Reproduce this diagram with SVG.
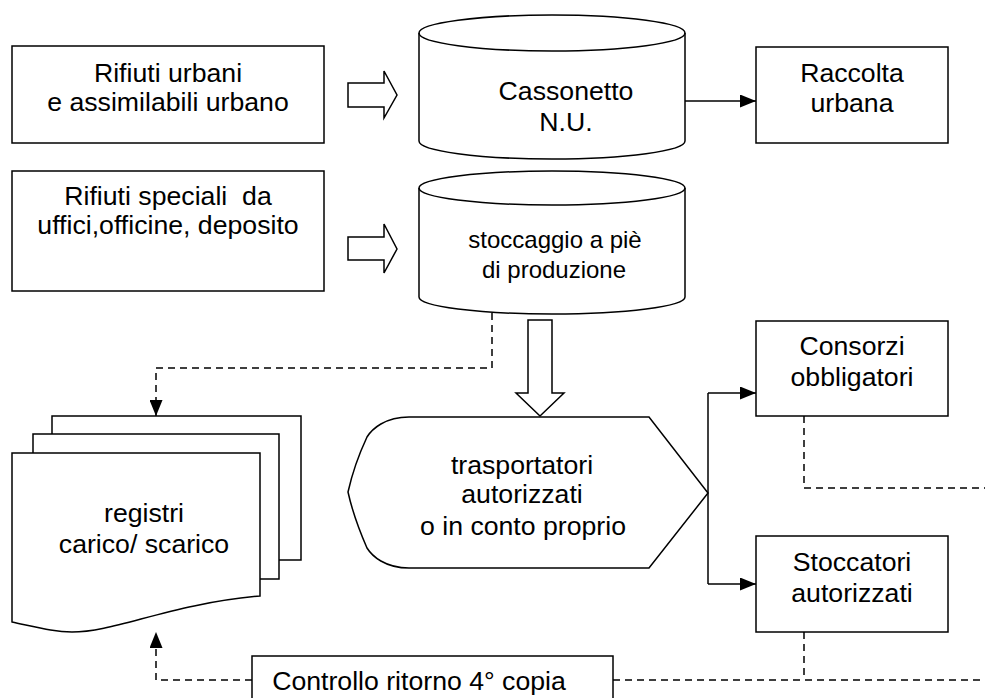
<svg xmlns="http://www.w3.org/2000/svg" width="985" height="698" viewBox="0 0 985 698">
<defs>
<style>
.s{fill:#fff;stroke:#000;stroke-width:1.5}
.l{fill:none;stroke:#000;stroke-width:1.5}
.d{fill:none;stroke:#000;stroke-width:1.5;stroke-dasharray:7,5}
text{font-family:"Liberation Sans",Arial,sans-serif;font-size:26.67px;fill:#000;text-anchor:middle;white-space:pre}
.sm{font-size:24px}
</style>
<marker id="ah" viewBox="0 0 16 13" refX="16" refY="6.5" markerWidth="16" markerHeight="13" markerUnits="userSpaceOnUse" orient="auto"><path d="M0,0L16,6.5L0,13z" fill="#000"/></marker>
</defs>
<rect width="985" height="698" fill="#fff"/>

<g id="connectors">
<line class="l" x1="685" y1="101" x2="756" y2="101" marker-end="url(#ah)"/>
<path class="l" d="M708,584V393"/>
<line class="l" x1="708" y1="393" x2="756" y2="393" marker-end="url(#ah)"/>
<line class="l" x1="708" y1="584" x2="756" y2="584" marker-end="url(#ah)"/>
<path class="d" d="M492,313V368H156V416" marker-end="url(#ah)"/>
<path class="d" d="M252,680H156V632" marker-end="url(#ah)"/>
<path class="d" d="M804,416V488H985"/>
<path class="d" d="M804,632V680"/>
<path class="d" d="M613,680H985"/>
<path class="s" d="M348,83H384V71L397,95L384,118V107H348Z"/>
<path class="s" d="M348,237H384V224L397,249L384,273V260H348Z"/>
<path class="s" d="M528,320H552V393H564L540,416L516,393H528Z"/>
</g>

<g id="rifiuti-urbani">
<rect class="s" x="12" y="46" width="312" height="97"/>
<text x="168" y="82">Rifiuti urbani</text>
<text x="168" y="111">e assimilabili urbano</text>
</g>

<g id="rifiuti-speciali">
<rect class="s" x="12" y="171" width="312" height="120"/>
<text x="168" y="205">Rifiuti speciali  da</text>
<text x="168" y="234">uffici,officine, deposito</text>
</g>

<g id="cassonetto">
<path class="s" d="M419,33V141A133,18 0 0 0 685,141V33A133,18 0 0 0 419,33Z"/>
<path class="l" d="M419,33A133,18 0 0 0 685,33"/>
<text x="566" y="100">Cassonetto</text>
<text x="566" y="131">N.U.</text>
</g>

<g id="raccolta">
<rect class="s" x="756" y="47" width="192" height="96"/>
<text x="852" y="82">Raccolta</text>
<text x="852" y="112">urbana</text>
</g>

<g id="stoccaggio">
<path class="s" d="M419,188V297A133,17 0 0 0 685,297V188A133,17 0 0 0 419,188Z"/>
<path class="l" d="M419,188A133,17 0 0 0 685,188"/>
<text class="sm" x="555" y="248">stoccaggio a piè</text>
<text class="sm" x="554" y="278">di produzione</text>
</g>

<g id="registri">
<path class="s" d="M52,434V416H301V560H279"/>
<path class="s" d="M33,453V434H279V579H260"/>
<path class="s" d="M12,453H260V596C170,604 115,632 72,632C55,632 40,628 12,622Z"/>
<text x="144" y="522">registri</text>
<text x="144" y="553">carico/ scarico</text>
</g>

<g id="trasportatori">
<path class="s" d="M409,417H649L708,493L649,568H409C385,568 372,556 367,548C360,532 352,510 348,492C352,474 360,452 367,437C372,429 385,417 409,417Z"/>
<text x="522" y="474">trasportatori</text>
<text x="522" y="503">autorizzati</text>
<text x="523" y="535">o in conto proprio</text>
</g>

<g id="consorzi">
<rect class="s" x="756" y="321" width="192" height="95"/>
<text x="852" y="355">Consorzi</text>
<text x="852" y="386">obbligatori</text>
</g>

<g id="stoccatori">
<rect class="s" x="756" y="536" width="192" height="96"/>
<text x="852" y="571">Stoccatori</text>
<text x="852" y="602">autorizzati</text>
</g>

<g id="controllo">
<rect class="s" x="252" y="656" width="361" height="60"/>
<text x="419" y="690">Controllo ritorno 4° copia</text>
</g>
</svg>
